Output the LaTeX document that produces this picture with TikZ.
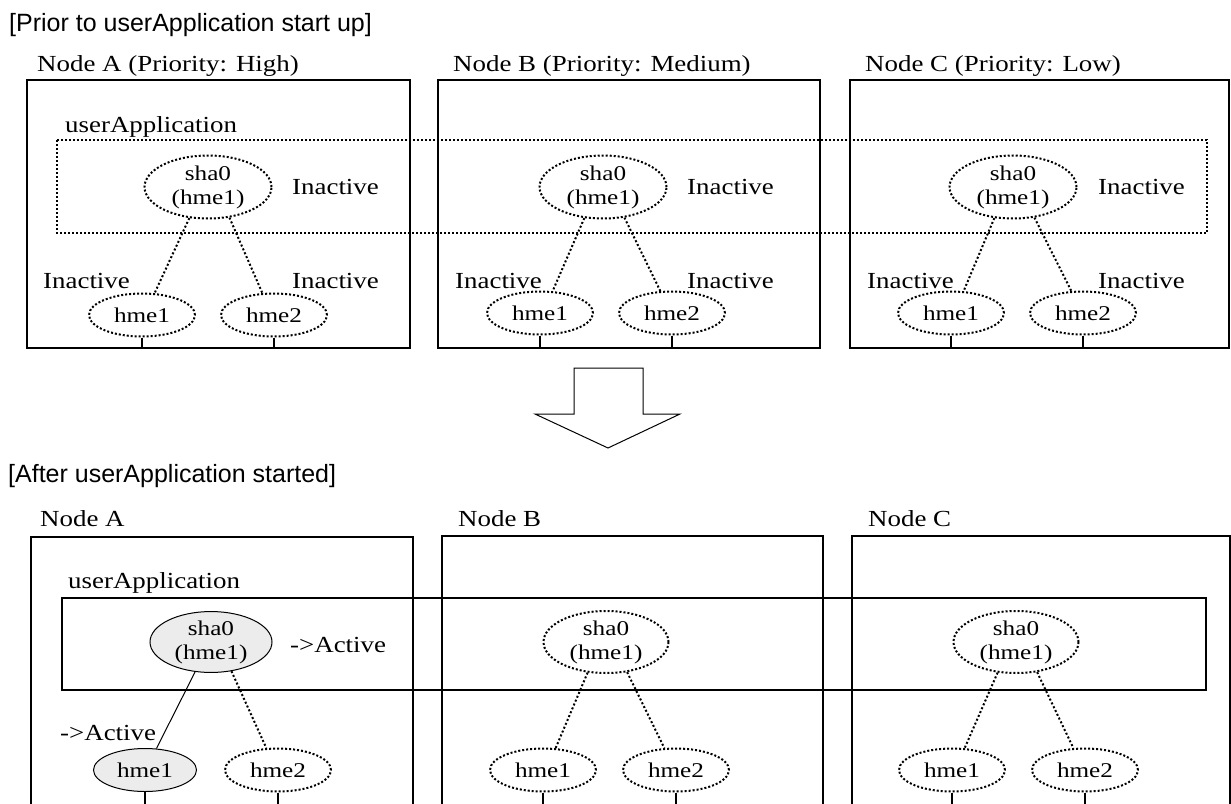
\documentclass[tikz,border=0pt]{standalone}
\usepackage{fontspec}
\usetikzlibrary{shapes.geometric}
\newfontfamily\nf[FakeStretch=1.17]{Liberation Serif}
\newfontfamily\ef[FakeStretch=1.2]{Liberation Serif}
\newfontfamily\ttlfont{Liberation Sans}
\definecolor{actfill}{RGB}{236,236,236}
\tikzset{
 box/.style={draw, line width=1.3pt},
 dotbox/.style={draw, line width=2.2pt, dash pattern=on 2.2pt off 1.8pt},
 ell/.style={ellipse, draw, inner sep=0pt, font=\ef\fontsize{21}{24}\selectfont, align=center},
 inact/.style={ell, line width=2pt, dash pattern=on 2pt off 2pt},
 act/.style={ell, line width=1pt, fill=actfill},
 dotline/.style={line width=2pt, dash pattern=on 2pt off 2.2pt},
 solline/.style={line width=1pt},
 stub/.style={line width=1.2pt},
 lbl/.style={anchor=base west, inner sep=0pt, font=\nf\fontsize{23}{26}\selectfont},
 ttl/.style={anchor=base west, inner sep=0pt, font=\ttlfont\fontsize{25}{28}\selectfont},
 sha/.style={minimum width=127pt, minimum height=63pt},
 hme/.style={minimum width=106pt, minimum height=43pt},
}
\begin{document}
\begin{tikzpicture}[x=1pt,y=-1pt]
\useasboundingbox[fill=white] (0,0) rectangle (1231,803);
\begin{scope}
\clip (0,0) rectangle (1231,803);
% ---------- top ----------
\node[ttl] (t1) at (9,31) {[Prior to userApplication start up]};
\node[lbl] (lA) at (37,71) {Node A (Priority: High)};
\node[lbl] (lB) at (453,71) {Node B (Priority: Medium)};
\node[lbl] (lC) at (865,71) {Node C (Priority: Low)};
\draw[box] (27,80) rectangle (410,348);
\draw[box] (438,80) rectangle (820,348);
\draw[box] (850,80) rectangle (1229,348);
\node[lbl] (ua1) at (65,132) {userApplication};
\draw[dotbox] (57,140) rectangle (1207,233);

\foreach \n/\sx/\hx/\hy/\gx/\ix/\jx in {A/208/142/315/274/292/43, B/603/540/313/672/687/455, C/1013/951/313/1083/1098/867}{
  \node[inact,sha] (sha\n) at (\sx,187) {sha0\\(hme1)};
  \node[inact,hme] (hmeone\n) at (\hx,\hy) {hme1};
  \node[inact,hme] (hmetwo\n) at (\gx,\hy) {hme2};
  \node[lbl] (ia\n) at (\ix,194) {Inactive};
  \node[lbl] (ib\n) at (\jx,288) {Inactive};
  \node[lbl] (ic\n) at (\ix,288) {Inactive};
  \draw[dotline] (sha\n.-121) -- (hmeone\n.60);
  \draw[dotline] (sha\n.-55) -- (hmetwo\n.118);
  \draw[stub] (hmeone\n.south) -- ++(0,11);
  \draw[stub] (hmetwo\n.south) -- ++(0,11);
}

% ---------- arrow ----------
\draw[line width=1pt] (574,368) -- (643,368) -- (643,414) -- (680,414) -- (608,448) -- (535,414) -- (574,414) -- cycle;

% ---------- bottom ----------
\node[ttl] (t2) at (8,482) {[After userApplication started]};
\node[lbl] (mA) at (40,526) {Node A};
\node[lbl] (mB) at (458,526) {Node B};
\node[lbl] (mC) at (868,526) {Node C};
\draw[box] (31,810) |- (413,537) -- (413,810);
\draw[box] (442,810) |- (823,536) -- (823,810);
\draw[box] (852,810) |- (1230,536) -- (1230,810);
\node[lbl] (ua2) at (68,588) {userApplication};
\draw[line width=1.2pt] (62,598) rectangle (1206,690);

\node[act,minimum width=122pt,minimum height=60pt] (shaAb) at (211,642) {sha0\\(hme1)};
\node[act,minimum width=103pt,minimum height=43pt] (hmeoneAb) at (145,770) {hme1};
\node[inact,hme] (hmetwoAb) at (278,770) {hme2};
\node[lbl] (aa) at (290,652) {-{}>Active};
\node[lbl] (ab) at (60,740) {-{}>Active};
\draw[solline] (shaAb.-118) -- (hmeoneAb.62);
\draw[dotline] (shaAb.-55) -- (hmetwoAb.118);
\draw[stub] (hmeoneAb.south) -- ++(0,12);
\draw[stub] (hmetwoAb.south) -- ++(0,12);

\foreach \n/\sx/\hx/\gx in {B/606/543/676, C/1016/952/1085}{
  \node[inact,sha,minimum width=125pt,minimum height=62pt] (sha\n b) at (\sx,642) {sha0\\(hme1)};
  \node[inact,hme] (hmeone\n b) at (\hx,770) {hme1};
  \node[inact,hme] (hmetwo\n b) at (\gx,770) {hme2};
  \draw[dotline] (sha\n b.-121) -- (hmeone\n b.60);
  \draw[dotline] (sha\n b.-55) -- (hmetwo\n b.118);
  \draw[stub] (hmeone\n b.south) -- ++(0,12);
  \draw[stub] (hmetwo\n b.south) -- ++(0,12);
}
\end{scope}
\end{tikzpicture}
\end{document}
